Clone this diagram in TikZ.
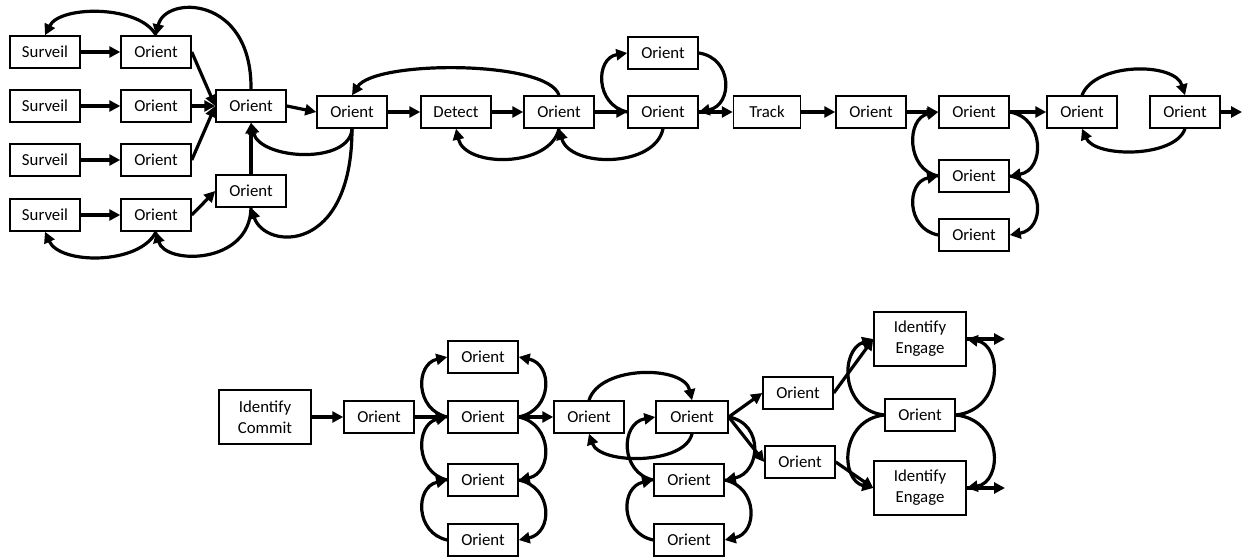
\documentclass[tikz,border=0pt]{standalone}
\usepackage{fontspec}
\setmainfont{Carlito}
\usetikzlibrary{arrows.meta}
\begin{document}
\begin{tikzpicture}[x=1bp,y=-1bp,
  box/.style={draw=black,line width=1.5bp,fill=white,minimum width=70bp,minimum height=32bp,inner sep=0pt,font=\fontsize{16.8bp}{21bp}\selectfont},
  bigbox/.style={box,minimum width=92bp,minimum height=54bp,align=center},
  arr/.style={line width=3.2bp,-{Triangle[length=11bp,width=11bp]}}]
\useasboundingbox (0,0) rectangle (1246,557);
% ---- top-left group
\node[box] (s1) at (45,52) {Surveil};
\node[box] (s2) at (45,106) {Surveil};
\node[box] (s3) at (45,160) {Surveil};
\node[box] (s4) at (45,215) {Surveil};
\node[box] (o1) at (156,52) {Orient};
\node[box] (o2) at (156,106) {Orient};
\node[box] (o3) at (156,160) {Orient};
\node[box] (o4) at (156,215) {Orient};
\node[box] (oc) at (251,106) {Orient};
\node[box] (ol) at (251,191) {Orient};
% ---- top row
\node[box] (om) at (352,112) {Orient};
\node[box] (det) at (456,112) {Detect};
\node[box] (ox) at (559,112) {Orient};
\node[box] (oy) at (663,112) {Orient};
\node[box] (ot) at (663,53) {Orient};
\node[box,minimum width=67bp] (trk) at (767,112) {Track};
\node[box] (oa) at (871,112) {Orient};
\node[box] (ob) at (974,112) {Orient};
\node[box] (ob2) at (974,176) {Orient};
\node[box] (ob3) at (974,235) {Orient};
\node[box] (oc1) at (1082,112) {Orient};
\node[box] (oc2) at (1185,112) {Orient};
\coordinate (endA) at (1242,112);
% ---- bottom
\node[bigbox] (ic) at (265,417) {Identify\\Commit};
\node[box] (p0) at (379,417) {Orient};
\node[box] (q1) at (483,357) {Orient};
\node[box] (q2) at (483,417) {Orient};
\node[box] (q3) at (483,480) {Orient};
\node[box] (q4) at (483,540) {Orient};
\node[box] (r0) at (589,417) {Orient};
\node[box,minimum width=72bp] (r1) at (692,417) {Orient};
\node[box] (r2) at (689,480) {Orient};
\node[box] (r3) at (689,540) {Orient};
\node[box] (u1) at (798,393) {Orient};
\node[box] (u2) at (800,462) {Orient};
\node[bigbox] (ie1) at (920,339) {Identify\\Engage};
\node[box] (om2) at (920,415) {Orient};
\node[bigbox] (ie2) at (920,488) {Identify\\Engage};
\coordinate (endB) at (1005,339);
\coordinate (endC) at (1005,488);
% ---- straight connectors
\draw[arr] (s1) -- (o1);
\draw[arr] (s2) -- (o2);
\draw[arr] (s3) -- (o3);
\draw[arr] (s4) -- (o4);
\draw[arr] (o1.east) -- (oc.west);
\draw[arr] (o2.east) -- (oc.west);
\draw[arr] (o3.east) -- (oc.west);
\draw[arr] (o4.east) -- (ol.west);
\draw[arr] (ol.north) -- (oc.south);
\draw[arr] (oc.east) -- (om.west);
\draw[arr] (om) -- (det);
\draw[arr] (det) -- (ox);
\draw[arr] (ox) -- (oy);
\draw[arr] (oy) -- (trk);
\draw[arr] (trk) -- (oa);
\draw[arr] (oa) -- (ob);
\draw[arr] (ob) -- (oc1);
\draw[arr] (oc2.east) -- (endA);
\draw[arr] (ic) -- (p0);
\draw[arr] (p0) -- (q2);
\draw[arr] (q2) -- (r0);
\draw[arr] (r1.east) -- (u1.west);
\draw[arr] (r1.east) -- (u2.west);
\draw[arr] (u1.east) -- (ie1.west);
\draw[arr] (u2.east) -- (ie2.west);
\draw[arr] (ie1.east) -- (endB);
\draw[arr] (ie2.east) -- (endC);
% ---- curved connectors, top-left
\draw[arr] (o1.north) .. controls (140,5) and (60,5) .. (s1.north);
\draw[arr] (oc.north) .. controls (252,-5) and (165,-5) .. (o1.north);
\draw[arr] (o4.south) .. controls (140,265) and (60,265) .. (s4.south);
\draw[arr] (ol.south) .. controls (250,265) and (165,265) .. (o4.south);
\draw[arr] (om.south) .. controls (350,165) and (260,160) .. (oc.south);
\draw[arr] (om.south) .. controls (352,255) and (265,250) .. (ol.south);
% ---- top row curves
\draw[arr] (ox.north) .. controls (548,60) and (375,60) .. (om.north);
\draw[arr] (ox.south) .. controls (550,168) and (465,168) .. (det.south);
\draw[arr] (oy.south) .. controls (655,168) and (570,168) .. (ox.south);
\draw[arr] (oy.west) .. controls (595,105) and (595,58) .. (ot.west);
\draw[arr] (ot.east) .. controls (733,58) and (733,105) .. (oy.east);
\draw[arr] (ob2.west) .. controls (906,170) and (906,118) .. (ob.west);
\draw[arr] (ob3.west) .. controls (906,229) and (906,182) .. (ob2.west);
\draw[arr] (ob.east) .. controls (1045,118) and (1045,170) .. (ob2.east);
\draw[arr] (ob2.east) .. controls (1045,182) and (1045,229) .. (ob3.east);
\draw[arr] (oc1.north) .. controls (1095,62) and (1175,62) .. (oc2.north);
\draw[arr] (oc2.south) .. controls (1175,158) and (1095,158) .. (oc1.south);
% ---- bottom column curves
\draw[arr] (q2.west) .. controls (415,410) and (415,364) .. (q1.west);
\draw[arr] (q3.west) .. controls (415,473) and (415,424) .. (q2.west);
\draw[arr] (q4.west) .. controls (415,533) and (415,487) .. (q3.west);
\draw[arr] (q2.east) .. controls (553,410) and (553,364) .. (q1.east);
\draw[arr] (q2.east) .. controls (553,424) and (553,473) .. (q3.east);
\draw[arr] (q3.east) .. controls (553,487) and (553,533) .. (q4.east);
% ---- r group curves
\draw[arr] (r0.north) .. controls (600,365) and (684,365) .. (r1.north);
\draw[arr] (r1.south) .. controls (685,465) and (600,465) .. (r0.south);
\draw[arr] (r2.west) .. controls (620,473) and (620,423) .. (r1.west);
\draw[arr] (r3.west) .. controls (620,533) and (620,487) .. (r2.west);
\draw[arr] (r1.east) .. controls (765,424) and (760,473) .. (r2.east);
\draw[arr] (r2.east) .. controls (758,487) and (758,533) .. (r3.east);
% ---- identify/engage curves
\draw[arr] (om2.west) .. controls (840,410) and (840,350) .. (ie1.west);
\draw[arr] (om2.west) .. controls (840,420) and (840,480) .. (ie2.west);
\draw[arr] (om2.east) .. controls (1003,410) and (1003,345) .. (ie1.east);
\draw[arr] (om2.east) .. controls (1003,420) and (1003,482) .. (ie2.east);
\end{tikzpicture}
\end{document}
